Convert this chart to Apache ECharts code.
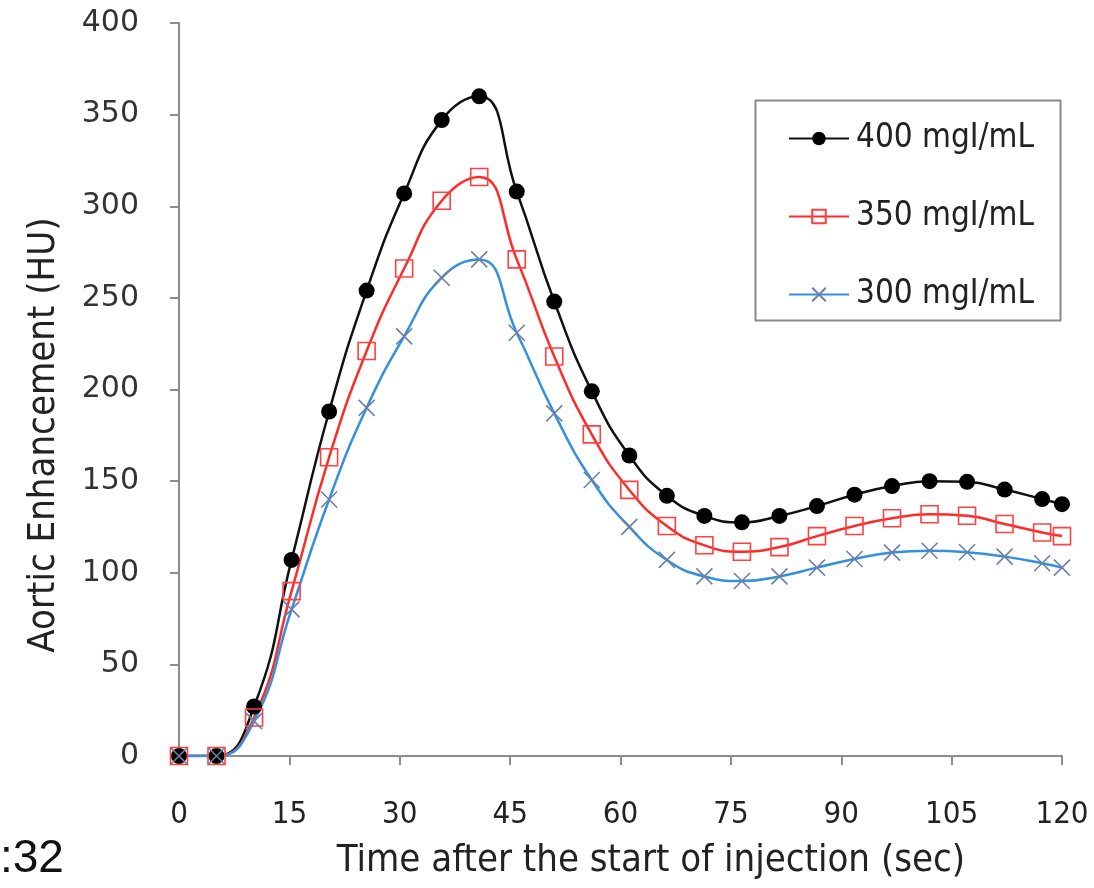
<!DOCTYPE html>
<html><head><meta charset="utf-8">
<script src="https://cdn.jsdelivr.net/npm/echarts@6/dist/echarts.min.js"></script>
<style>html,body{margin:0;padding:0;background:#fff}#c{width:1094px;height:888px}</style>
</head><body><div id="c"></div>
<script>
const times = [0, 5.1, 10.2, 15.3, 20.4, 25.5, 30.6, 35.7, 40.8, 45.9, 51.0, 56.1, 61.2, 66.3, 71.4, 76.5, 81.6, 86.7, 91.8, 96.9, 102.0, 107.1, 112.2, 117.3, 120];
const conc400 = [0, 0, 27, 107, 188, 254, 307, 347, 360, 308, 248, 199, 164, 142, 131, 127.5, 131, 136.4, 142.6, 147.3, 150, 149.6, 145.4, 140.2, 137.4];
const conc350 = [0, 0, 21, 90, 163, 221, 266, 303, 316, 271, 218, 175.5, 145.2, 125.5, 115, 111.5, 114, 120, 125.5, 129.7, 131.9, 131.1, 126.6, 122, 120];
const conc300 = [0, 0, 19, 80, 140, 190, 229, 261, 271, 231, 187, 150.6, 125, 107, 98, 95.5, 98, 102.8, 107.5, 111, 112, 111.2, 108.8, 105.2, 102.8];
const seriesNames = ['400 mgI/mL', '350 mgI/mL', '300 mgI/mL'];
const xTitle = 'Time after the start of injection (sec)';
const yTitle = 'Aortic Enhancement (HU)';
const cornerText = ':32';

const pair = ys => times.map((t, i) => [t, ys[i]]);
const condensed = '"DejaVu Sans Condensed","Liberation Sans Narrow",sans-serif';
const axisGray = '#8c8c8c';

const chart = echarts.init(document.getElementById('c'), null, {renderer: 'canvas'});
chart.setOption({
  animation: false,
  backgroundColor: '#fff',
  grid: {left: 179, top: 23, right: 32, bottom: 132, containLabel: false},
  xAxis: {
    type: 'value', min: 0, max: 120, interval: 15,
    axisLine: {lineStyle: {color: axisGray, width: 2}},
    axisTick: {show: true, length: 9, lineStyle: {color: axisGray, width: 2}},
    axisLabel: {fontFamily: condensed, fontSize: 31, color: '#222', margin: 43},
    splitLine: {show: false}
  },
  yAxis: {
    type: 'value', min: 0, max: 400, interval: 50,
    axisLine: {show: true, lineStyle: {color: axisGray, width: 2}},
    axisTick: {show: true, length: 9, lineStyle: {color: axisGray, width: 2}},
    axisLabel: {fontFamily: '"DejaVu Sans",sans-serif', fontSize: 30, color: '#333', margin: 40},
    splitLine: {show: false}
  },
  legend: {
    orient: 'vertical', left: 788, top: 122, padding: 0,
    itemWidth: 60, itemHeight: 17, itemGap: 45,
    textStyle: {fontFamily: condensed, fontSize: 33, color: '#222', lineHeight: 30, padding: [0, 0, 0, 2]},
    data: seriesNames
  },
  graphic: [
    {type: 'rect', left: 753, top: 98, shape: {width: 305, height: 220},
     style: {fill: 'none', stroke: '#8a8a8a', lineWidth: 2}, z: -1},
    {type: 'text', x: 44, y: 435, rotation: Math.PI / 2,
     style: {text: yTitle, font: '38px "DejaVu Sans Condensed","Liberation Sans Narrow",sans-serif', fill: '#222', align: 'center', verticalAlign: 'middle'}},
    {type: 'text', x: 651, y: 861,
     style: {text: xTitle, font: '38px "DejaVu Sans Condensed","Liberation Sans Narrow",sans-serif', fill: '#222', align: 'center', verticalAlign: 'middle'}},
    {type: 'text', left: 0, top: 836, style: {text: cornerText, font: '46px "Liberation Sans", Arial, sans-serif', fill: '#111'}}
  ],
  series: [
    {name: seriesNames[0], type: 'line', smooth: 0.5, data: pair(conc400),
     symbol: 'circle', symbolSize: 16,
     lineStyle: {color: '#111', width: 2.5},
     itemStyle: {color: '#000'}},
    {name: seriesNames[1], type: 'line', smooth: 0.5, data: pair(conc350),
     symbol: 'rect', symbolSize: 17,
     lineStyle: {color: '#ff2a2a', width: 2.5},
     itemStyle: {color: 'rgba(255,255,255,0)', borderColor: '#ff4040', borderWidth: 1.6}},
    {name: seriesNames[2], type: 'line', smooth: 0.5, data: pair(conc300),
     symbol: 'path://M0,0L20,20M20,0L0,20', symbolSize: 16,
     lineStyle: {color: '#3590dc', width: 2.5},
     itemStyle: {color: 'rgba(0,0,0,0)', borderColor: '#6c7fa6', borderWidth: 1.6}}
  ]
});
</script></body></html>
